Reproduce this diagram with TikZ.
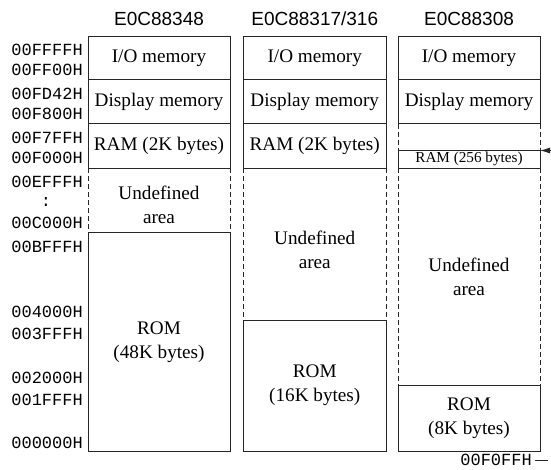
\documentclass[tikz,border=0pt]{standalone}
\usepackage{fontspec}
\setmainfont{Liberation Serif}
\setsansfont{Liberation Sans}
\setmonofont{Liberation Mono}
\usetikzlibrary{arrows.meta}

\tikzset{
  memblk/.style={draw=black!85, line width=0.9pt, inner sep=0pt, outer sep=0pt,
    align=center, font=\fontsize{19.2}{24}\selectfont},
  hole/.style={memblk, draw=none},
  dashside/.style={draw=black!85, line width=0.9pt, dash pattern=on 5pt off 3pt},
  chip/.style={font=\sffamily\fontsize{19}{22}\selectfont},
  addr/.style={anchor=east, inner sep=0pt, font=\ttfamily\fontsize{17}{20}\selectfont},
}

\begin{document}
\begin{tikzpicture}[x=1pt, y=-1pt]
        \useasboundingbox (0,0) rectangle (551,469);

        % chip names
        \node[chip] (h1) at (159,19) {E0C88348};
        \node[chip] (h2) at (314.75,19) {E0C88317/316};
        \node[chip] (h3) at (469,19) {E0C88308};

        % E0C88348
        \node[memblk, minimum width=142pt, minimum height=43.5pt] (io1) at (159,57.75) {I/O memory};
        \node[memblk, minimum width=142pt, minimum height=44pt] (disp1) at (159,101.5) {Display memory};
        \node[memblk, minimum width=142pt, minimum height=44.5pt] (ram1) at (159,145.75) {RAM (2K bytes)};
        \node[hole] (undef1) at (159,205) {Undefined\\area};
        \node[memblk, minimum width=142pt, minimum height=218.5pt] (rom1) at (159,341.75) {ROM\\(48K bytes)};

        % E0C88317/316
        \node[memblk, minimum width=142.5pt, minimum height=43.5pt] (io2) at (314.75,57.75) {I/O memory};
        \node[memblk, minimum width=142.5pt, minimum height=44pt] (disp2) at (314.75,101.5) {Display memory};
        \node[memblk, minimum width=142.5pt, minimum height=44.5pt] (ram2) at (314.75,145.75) {RAM (2K bytes)};
        \node[hole] (undef2) at (314.75,250) {Undefined\\area};
        \node[memblk, minimum width=142.5pt, minimum height=131pt] (rom2) at (314.75,385.5) {ROM\\(16K bytes)};

        % E0C88308
        \node[memblk, minimum width=142pt, minimum height=43.5pt] (io3) at (469,57.75) {I/O memory};
        \node[memblk, minimum width=142pt, minimum height=44pt] (disp3) at (469,101.5) {Display memory};
        \node[memblk, minimum width=142pt, minimum height=17.5pt, font=\fontsize{15.2}{18}\selectfont] (ram3) at (469,159.25) {RAM (256 bytes)};
        \node[hole] (undef3) at (469,276.75) {Undefined\\area};
        \node[memblk, minimum width=142pt, minimum height=65.5pt] (rom3) at (469,418.25) {ROM\\(8K bytes)};

        % dashed sides of the unused parts
        \foreach \a/\b in {ram1/rom1, ram2/rom2, disp3/ram3, ram3/rom3}
          \draw[dashside] (\a.south west) -- (\b.north west) (\a.south east) -- (\b.north east);

        % addresses
        \foreach \y/\t [count=\i] in {49.5/00FFFFH, 69.5/00FF00H, 93.5/00FD42H, 114/00F800H,
            138/00F7FFH, 158/00F000H, 182/00EFFFH, 223/00C000H, 247/00BFFFH, 312/004000H,
            334/003FFFH, 378/002000H, 400/001FFFH, 443/000000H}
          \node[addr] (a\i) at (83,\y) {\t};
        \node[addr, anchor=center] (dots) at (46,202) {:};

        \node[addr] (tail) at (532,460) {00F0FFH};
        \coordinate (tailend) at (548,460);
        \draw[black!85, line width=0.9pt, shorten <=3pt] (tail.east) -- (tailend);

        \coordinate (ramptr) at (553,150.5);
        \draw[black!85, line width=0.9pt, -{Latex[length=10pt,width=6pt]}] (ramptr) -- (ram3.north east);
      \end{tikzpicture}
\end{document}
